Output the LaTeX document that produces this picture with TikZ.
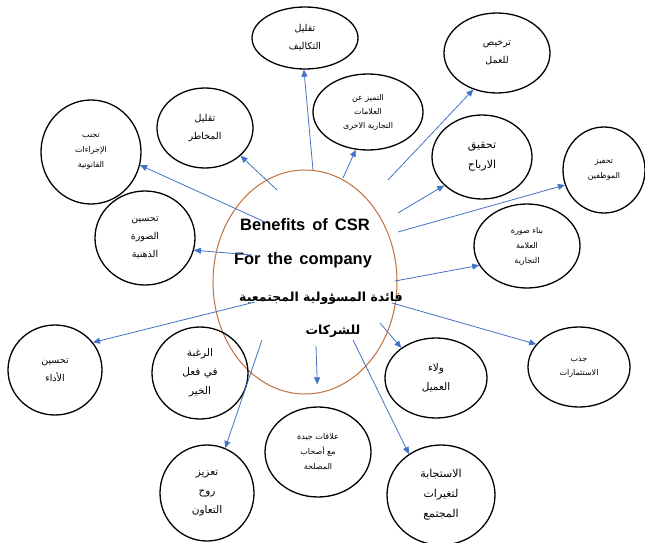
\documentclass[tikz,border=0pt]{standalone}
\usepackage{fontspec}
\setmainfont{Liberation Sans}
\newfontfamily\arabicfont[Script=Arabic]{DejaVu Sans}
\TeXXeTstate=1
\newcommand{\ar}[1]{{\arabicfont\beginR #1\endR}}
\usetikzlibrary{shapes.geometric,arrows.meta}
\definecolor{arrblue}{HTML}{4472C4}
\definecolor{ringbrown}{HTML}{C0703A}
\begin{document}
\begin{tikzpicture}[x=1pt,y=-1pt,
  ell/.style={ellipse,draw=black,line width=1.3pt,inner sep=0pt,align=center,font=\fontsize{9.5}{18}\selectfont},
  arr/.style={draw=arrblue,line width=0.8pt,-{Triangle[length=7pt,width=6pt]}},
  ctext/.style={font=\fontsize{16.5}{18}\bfseries\selectfont,inner sep=0pt}]
\fill[white] (0,0) rectangle (645,543);
\useasboundingbox (0,0) rectangle (645,543);
% central ellipse
\node[ellipse,draw=ringbrown,line width=1pt,minimum width=184pt,minimum height=224pt,inner sep=0pt] (c) at (305,282) {};
\node[ctext] (t1) at (305,225) {Benefits\hspace{0.15em} of\hspace{0.15em} CSR};
\node[ctext] (t2) at (303,260) {For\hspace{0.15em} the\hspace{0.15em} company};
\node[inner sep=0pt,font=\fontsize{12.5}{14}\bfseries\selectfont] (t3) at (321,298) {\ar{فائدة المسؤولية المجتمعية}};
\node[inner sep=0pt,font=\fontsize{12.5}{14}\bfseries\selectfont] (t4) at (333,331) {\ar{للشركات}};
% surrounding ellipses
\node[ell,minimum width=106pt,minimum height=62pt] (n1) at (305,38) {\ar{تقليل}\\\ar{التكاليف}};
\node[ell,minimum width=106pt,minimum height=80pt] (n2) at (497,53) {\ar{ترخيص}\\\ar{للعمل}};
\node[ell,minimum width=110pt,minimum height=76pt,font=\fontsize{8}{14}\selectfont] (n3) at (368,112) {\ar{التميز عن}\\\ar{العلامات}\\\ar{التجارية الاخرى}};
\node[ell,minimum width=100pt,minimum height=104pt,font=\fontsize{8}{15}\selectfont] (n4) at (91,152) {\ar{تجنب}\\\ar{الإجراءات}\\\ar{القانونية}};
\node[ell,minimum width=96pt,minimum height=80pt] (n5) at (205,128) {\ar{تقليل}\\\ar{المخاطر}};
\node[ell,minimum width=100pt,minimum height=84pt,font=\fontsize{11}{20}\selectfont] (n6) at (482,157) {\ar{تحقيق}\\\ar{الارباح}};
\node[ell,minimum width=100pt,minimum height=94pt] (n7) at (145,238) {\ar{تحسين}\\\ar{الصورة}\\\ar{الذهنية}};
\node[ell,minimum width=82pt,minimum height=86pt,font=\fontsize{8}{15}\selectfont] (n8) at (604,170) {\ar{تحفيز}\\\ar{الموظفين}};
\node[ell,minimum width=106pt,minimum height=84pt,font=\fontsize{8}{15}\selectfont] (n9) at (527,246) {\ar{بناء صورة}\\\ar{العلامة}\\\ar{التجارية}};
\node[ell,minimum width=94pt,minimum height=90pt] (n10) at (55,370) {\ar{تحسين}\\\ar{الأداء}};
\node[ell,minimum width=96pt,minimum height=92pt,font=\fontsize{10.5}{19}\selectfont] (n11) at (200,373) {\ar{الرغبة}\\\ar{في فعل}\\\ar{الخير}};
\node[ell,minimum width=102pt,minimum height=80pt,font=\fontsize{10.5}{19}\selectfont] (n12) at (436,378) {\ar{ولاء}\\\ar{العميل}};
\node[ell,minimum width=102pt,minimum height=80pt,font=\fontsize{8}{14}\selectfont] (n13) at (579,367) {\ar{جذب}\\\ar{الاستثمارات}};
\node[ell,minimum width=106pt,minimum height=90pt,font=\fontsize{8}{15}\selectfont] (n14) at (318,452) {\ar{علاقات جيدة}\\\ar{مع أصحاب}\\\ar{المصلحة}};
\node[ell,minimum width=94pt,minimum height=96pt,font=\fontsize{10.5}{19}\selectfont] (n15) at (207,493) {\ar{تعزيز}\\\ar{روح}\\\ar{التعاون}};
\node[ell,minimum width=108pt,minimum height=100pt,font=\fontsize{11}{20}\selectfont] (n16) at (441,495) {\ar{الاستجابة}\\\ar{لتغيرات}\\\ar{المجتمع}};
% arrow start points
\coordinate (s1) at (313,170);
\coordinate (s2) at (388,180);
\coordinate (s3) at (343,178);
\coordinate (s4) at (265,222);
\coordinate (s5) at (277,190);
\coordinate (s6) at (398,213);
\coordinate (s7) at (252,255);
\coordinate (s8) at (398,232);
\coordinate (s9) at (395,281);
\coordinate (s10) at (255,302);
\coordinate (s12) at (380,323);
\coordinate (s13) at (392,303);
\coordinate (s14) at (316,346);
\coordinate (s15) at (262,340);
\coordinate (s16) at (353,340);
% arrows
\draw[arr] (s1) -- (n1.268);
\draw[arr] (s2) -- (n2.237);
\draw[arr] (s3) -- (n3.252);
\draw[arr] (s4) -- (n4.345);
\draw[arr] (s5) -- (n5.322);
\draw[arr] (s6) -- (n6.217);
\draw[arr] (s7) -- (n7.346);
\draw[arr] (s8) -- (n8.201);
\draw[arr] (s9) -- (n9.202);
\draw[arr] (s10) -- (n10.36);
\draw[arr] (s12) -- (n12.139);
\draw[arr] (s13) -- (n13.152);
\draw[arr,shorten >=22pt] (s14) -- (n14.north);
\draw[arr] (s15) -- (n15.68);
\draw[arr] (s16) -- (n16.128);
\end{tikzpicture}
\end{document}
